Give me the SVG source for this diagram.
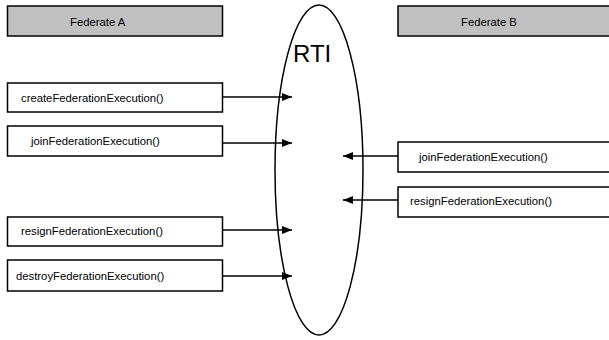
<svg xmlns="http://www.w3.org/2000/svg" width="609" height="340" viewBox="0 0 609 340">
<style>
.box{fill:#fff;stroke:#000;stroke-width:1.5}
.hdr{fill:#c0c0c0;stroke:#000;stroke-width:1.5}
.lbl{font-family:"Liberation Sans",Arial,sans-serif;font-size:11.3px;fill:#000}
.conn{stroke:#000;stroke-width:1.3;fill:none;marker-end:url(#ah)}
</style>
<defs>
<marker id="ah" viewBox="0 0 10 8" refX="10" refY="4" markerWidth="10" markerHeight="8" markerUnits="userSpaceOnUse" orient="auto">
<path d="M0,0 L10,4 L0,8 Z" fill="#000"/>
</marker>
</defs>
<rect width="609" height="340" fill="#fff"/>
<g id="rti">
<ellipse cx="319" cy="170" rx="44" ry="165" fill="none" stroke="#000" stroke-width="1.5"/>
<text x="293" y="62" font-family="'Liberation Sans',Arial,sans-serif" font-size="24" fill="#000">RTI</text>
</g>
<g id="federateA">
<rect class="hdr" x="7.5" y="6" width="215" height="30"/>
<text class="lbl" x="70" y="26">Federate A</text>
</g>
<g id="federateB">
<rect class="hdr" x="398" y="6" width="220" height="30"/>
<text class="lbl" x="461" y="26">Federate B</text>
</g>
<g id="createA">
<rect class="box" x="7.5" y="83" width="215" height="29"/>
<text class="lbl" x="21" y="102">createFederationExecution()</text>
</g>
<g id="joinA">
<rect class="box" x="7.5" y="126" width="215" height="30"/>
<text class="lbl" x="31" y="145">joinFederationExecution()</text>
</g>
<g id="resignA">
<rect class="box" x="7.5" y="217" width="215" height="29"/>
<text class="lbl" x="21" y="235">resignFederationExecution()</text>
</g>
<g id="destroyA">
<rect class="box" x="7.5" y="260" width="215" height="31"/>
<text class="lbl" x="16" y="280">destroyFederationExecution()</text>
</g>
<g id="joinB">
<rect class="box" x="398" y="142" width="220" height="30"/>
<text class="lbl" x="419" y="161">joinFederationExecution()</text>
</g>
<g id="resignB">
<rect class="box" x="398" y="187" width="220" height="30"/>
<text class="lbl" x="410" y="205">resignFederationExecution()</text>
</g>
<g id="connectors">
<line class="conn" x1="222" y1="97" x2="292" y2="97"/>
<line class="conn" x1="222" y1="143" x2="292" y2="143"/>
<line class="conn" x1="222" y1="230" x2="292" y2="230"/>
<line class="conn" x1="222" y1="276" x2="292" y2="276"/>
<line class="conn" x1="398" y1="156" x2="343" y2="156"/>
<line class="conn" x1="398" y1="200" x2="343" y2="200"/>
</g>
</svg>
